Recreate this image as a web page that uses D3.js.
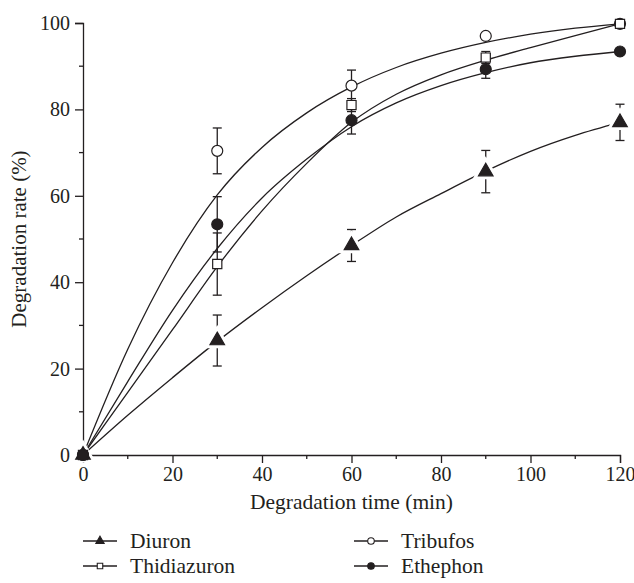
<!DOCTYPE html>
<html>
<head>
<meta charset="utf-8">
<script src="https://cdn.jsdelivr.net/npm/d3@7"></script>
<style>
  body { margin: 0; background: #fff; }
  svg text { font-family: "Liberation Serif", "DejaVu Serif", serif; fill: #231f20; }
</style>
</head>
<body>
<div id="vis"></div>
<script>

// measured points (mean, error)
var times = [0, 30, 60, 90, 120];
var diuron = [0, 26.5, 48.5, 65.6, 77.0];
var diuronErr = [0, 5.9, 3.7, 4.9, 4.2];
var tribufos = [0, 70.4, 85.5, 97.0, 99.8];
var tribufosErr = [0, 5.3, 3.6, 0, 0];
var thidiazuron = [0, 44.2, 81.0, 92.0, 99.8];
var thidiazuronErr = [0, 7.2, 1.5, 1.4, 0];
var ethephon = [0, 53.4, 77.5, 89.3, 93.4];
var ethephonErr = [0, 6.4, 3.2, 2.1, 0];

// fitted curves
var fitTimes = [0, 10, 20, 30, 40, 50, 60, 70, 80, 90, 100, 110, 120];
var diuronFit = [0, 9.2, 17.9, 26.3, 34.1, 41.5, 48.5, 55.1, 60.5, 65.7, 70.3, 74.0, 77.0];
var tribufosFit = [0, 24.5, 44.5, 60.2, 71.2, 79.2, 85.2, 89.7, 93.0, 95.5, 97.4, 98.8, 99.8];
var thidiazuronFit = [0, 14.5, 29, 43.6, 56.5, 67.5, 77.0, 83.5, 88.0, 91.4, 94.3, 97.1, 99.8];
var ethephonFit = [0, 17, 33.5, 47.8, 59.5, 68.5, 76.0, 81.5, 85.5, 88.5, 90.8, 92.3, 93.4];

var xTicks = [0, 20, 40, 60, 80, 100, 120];
var yTicks = [0, 20, 40, 60, 80, 100];

var ink = '#231f20';

var series = [
  {name: 'Diuron', mean: diuron, err: diuronErr, fit: diuronFit, shape: 'triangle'},
  {name: 'Tribufos', mean: tribufos, err: tribufosErr, fit: tribufosFit, shape: 'open'},
  {name: 'Thidiazuron', mean: thidiazuron, err: thidiazuronErr, fit: thidiazuronFit, shape: 'square'},
  {name: 'Ethephon', mean: ethephon, err: ethephonErr, fit: ethephonFit, shape: 'filled'}
];

var width = 634, height = 583;
var margin = {left: 83, right: 14, top: 23, bottom: 128};

var svg = d3.select('#vis').append('svg')
  .attr('width', width)
  .attr('height', height);

var x = d3.scaleLinear().domain([0, 120]).range([margin.left, width - margin.right]);
var y = d3.scaleLinear().domain([0, 100]).range([height - margin.bottom, margin.top]);

function symbolFor(shape, big) {
  if (shape === 'triangle') return d3.symbol().type(d3.symbolTriangle).size(big ? 92 : 30);
  if (shape === 'square') return d3.symbol().type(d3.symbolSquare).size(big ? 84 : 30);
  return d3.symbol().type(d3.symbolCircle).size(big ? 95 : 34);
}

// axes
var xAxis = d3.axisBottom(x).tickValues(xTicks).tickSize(8).tickPadding(4);
var yAxis = d3.axisLeft(y).tickValues(yTicks).tickSize(8).tickPadding(5);

var gx = svg.append('g').attr('transform', 'translate(0,' + y(0) + ')').call(xAxis);
var gy = svg.append('g').attr('transform', 'translate(' + x(0) + ',0)').call(yAxis);

// minor ticks
gx.selectAll('.minor').data(d3.range(10, 120, 20)).enter().append('line')
  .attr('x1', function (d) { return x(d); }).attr('x2', function (d) { return x(d); })
  .attr('y1', 0).attr('y2', 4);
gy.selectAll('.minor').data(d3.range(10, 100, 20)).enter().append('line')
  .attr('y1', function (d) { return y(d); }).attr('y2', function (d) { return y(d); })
  .attr('x1', 0).attr('x2', -4);

[gx, gy].forEach(function (g) {
  g.select('.domain').attr('stroke', ink).attr('stroke-width', 1.3);
  g.selectAll('line').attr('stroke', ink).attr('stroke-width', 1.3);
  g.selectAll('text').attr('font-size', 20).style('fill', ink);
});

svg.append('text')
  .attr('x', x(60)).attr('y', 509)
  .attr('text-anchor', 'middle')
  .attr('font-size', 21.5)
  .text('Degradation time (min)');

svg.append('text')
  .attr('transform', 'translate(26,' + y(50) + ') rotate(-90)')
  .attr('text-anchor', 'middle')
  .attr('font-size', 21)
  .text('Degradation rate (%)');

// fitted curves
var line = d3.line()
  .x(function (d) { return x(d[0]); })
  .y(function (d) { return y(d[1]); })
  .curve(d3.curveMonotoneX);

series.forEach(function (s) {
  svg.append('path')
    .datum(fitTimes.map(function (t, i) { return [t, s.fit[i]]; }))
    .attr('fill', 'none')
    .attr('stroke', ink)
    .attr('stroke-width', 1.3)
    .attr('d', line);
});

function pointsOf(s) {
  return times.map(function (t, i) { return {t: t, v: s.mean[i], e: s.err[i]}; });
}

// error bars
series.forEach(function (s) {
  var g = svg.append('g').attr('stroke', ink).attr('stroke-width', 1.3);
  pointsOf(s).filter(function (p) { return p.e > 0; }).forEach(function (p) {
    g.append('line').attr('x1', x(p.t)).attr('x2', x(p.t))
      .attr('y1', y(p.v - p.e)).attr('y2', y(p.v + p.e));
    [p.v - p.e, p.v + p.e].forEach(function (v) {
      g.append('line').attr('x1', x(p.t) - 4.5).attr('x2', x(p.t) + 4.5)
        .attr('y1', y(v)).attr('y2', y(v));
    });
  });
});

// white halo round the triangles, then markers
series.forEach(function (s) {
  var sym = symbolFor(s.shape, true);
  var pts = pointsOf(s);
  if (s.shape === 'triangle') {
    svg.selectAll('.halo-' + s.name).data(pts).enter().append('path')
      .attr('transform', function (p) { return 'translate(' + x(p.t) + ',' + y(p.v) + ')'; })
      .attr('d', sym)
      .attr('fill', '#fff')
      .attr('stroke', '#fff')
      .attr('stroke-width', 7);
  }
  svg.selectAll('.mark-' + s.name).data(pts).enter().append('path')
    .attr('transform', function (p) { return 'translate(' + x(p.t) + ',' + y(p.v) + ')'; })
    .attr('d', sym)
    .attr('fill', (s.shape === 'open' || s.shape === 'square') ? '#fff' : ink)
    .attr('stroke', ink)
    .attr('stroke-width', 1.2);
});

// legend
var legendPos = [[83, 541], [354, 541], [83, 566], [354, 566]];
series.forEach(function (s, i) {
  var g = svg.append('g').attr('transform', 'translate(' + legendPos[i][0] + ',' + legendPos[i][1] + ')');
  g.append('line').attr('x1', 0).attr('x2', 34).attr('y1', 0).attr('y2', 0)
    .attr('stroke', ink).attr('stroke-width', 1.3);
  g.append('path')
    .attr('transform', 'translate(17,0)')
    .attr('d', symbolFor(s.shape, false))
    .attr('fill', (s.shape === 'open' || s.shape === 'square') ? '#fff' : ink)
    .attr('stroke', ink)
    .attr('stroke-width', 1.1);
  g.append('text')
    .attr('x', 47).attr('y', 7)
    .attr('font-size', 21.5)
    .text(s.name);
});

</script>
</body>
</html>
